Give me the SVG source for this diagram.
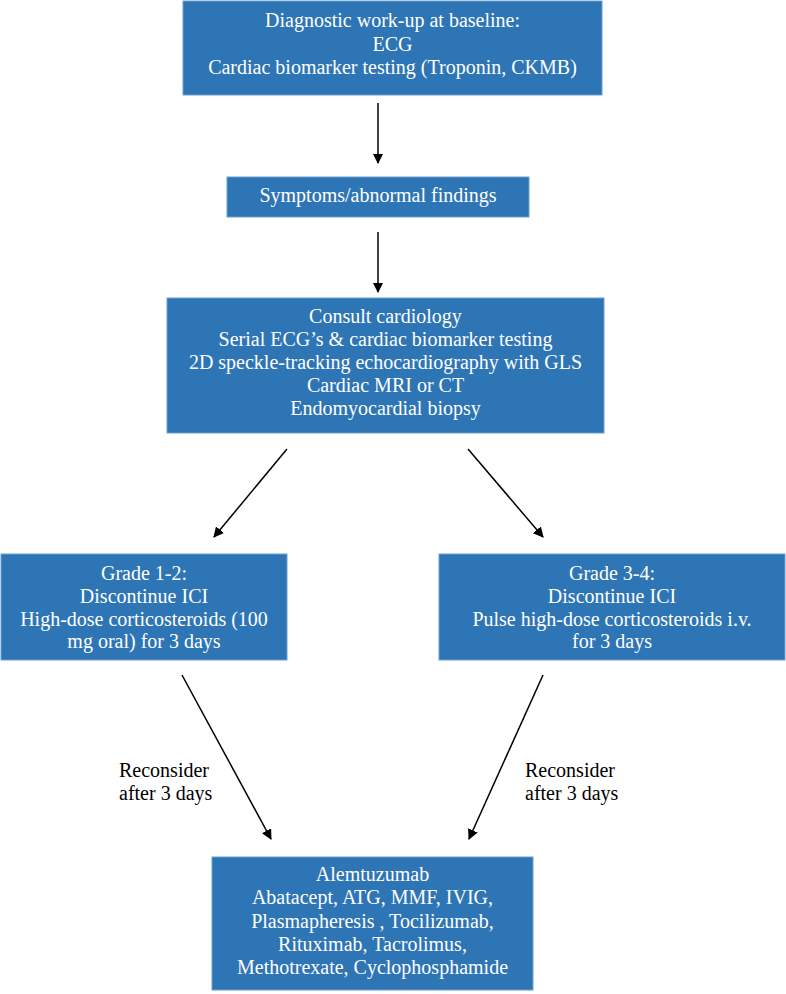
<svg xmlns="http://www.w3.org/2000/svg" width="786" height="994" viewBox="0 0 786 994">
<defs>
<style>
.box{fill:#2E75B6;stroke:#6A9FD4;stroke-width:1}
.t{font-family:"Liberation Serif","Times New Roman",serif;font-size:20px;fill:#ffffff;text-anchor:middle}
.lbl{font-family:"Liberation Serif","Times New Roman",serif;font-size:20px;fill:#000000}
.c{stroke:#000;stroke-width:1.5;fill:none;marker-end:url(#ah)}
</style>
<marker id="ah" viewBox="0 0 10 10" refX="9" refY="5" markerWidth="7" markerHeight="7" markerUnits="strokeWidth" orient="auto">
<path d="M0,0 L10,5 L0,10 Z" fill="#000"/>
</marker>
</defs>
<rect width="786" height="994" fill="#ffffff"/>
<g id="connectors">
<line class="c" x1="378" y1="103" x2="378" y2="163"/>
<line class="c" x1="378" y1="232" x2="378" y2="292"/>
<line class="c" x1="287" y1="449" x2="214" y2="537"/>
<line class="c" x1="468" y1="449" x2="543" y2="537"/>
<line class="c" x1="182" y1="675" x2="271" y2="839"/>
<line class="c" x1="543" y1="675" x2="469" y2="839"/>
<text class="lbl" x="119" y="777">Reconsider</text>
<text class="lbl" x="119" y="800">after 3 days</text>
<text class="lbl" x="525" y="777">Reconsider</text>
<text class="lbl" x="525" y="800">after 3 days</text>
</g>
<g id="baseline">
<rect class="box" x="183" y="1" width="419" height="94"/>
<text class="t" x="392.5" y="27">Diagnostic work-up at baseline:</text>
<text class="t" x="392.5" y="50.5">ECG</text>
<text class="t" x="392.5" y="74">Cardiac biomarker testing (Troponin, CKMB)</text>
</g>
<g id="symptoms">
<rect class="box" x="227" y="177" width="302" height="40"/>
<text class="t" x="378" y="202">Symptoms/abnormal findings</text>
</g>
<g id="consult">
<rect class="box" x="167" y="298" width="437" height="135"/>
<text class="t" x="385.5" y="323">Consult cardiology</text>
<text class="t" x="385.5" y="346">Serial ECG’s &amp; cardiac biomarker testing</text>
<text class="t" x="385.5" y="369">2D speckle-tracking echocardiography with GLS</text>
<text class="t" x="385.5" y="392">Cardiac MRI or CT</text>
<text class="t" x="385.5" y="415">Endomyocardial biopsy</text>
</g>
<g id="grade12">
<rect class="box" x="1" y="554" width="286" height="106"/>
<text class="t" x="144" y="580">Grade 1-2:</text>
<text class="t" x="144" y="603">Discontinue ICI</text>
<text class="t" x="144" y="625.5">High-dose corticosteroids (100</text>
<text class="t" x="144" y="648">mg oral) for 3 days</text>
</g>
<g id="grade34">
<rect class="box" x="439" y="554" width="346" height="106"/>
<text class="t" x="612" y="580">Grade 3-4:</text>
<text class="t" x="612" y="603">Discontinue ICI</text>
<text class="t" x="612" y="625.5">Pulse high-dose corticosteroids i.v.</text>
<text class="t" x="612" y="648">for 3 days</text>
</g>
<g id="secondline">
<rect class="box" x="212" y="857" width="321" height="133"/>
<text class="t" x="372.5" y="881">Alemtuzumab</text>
<text class="t" x="372.5" y="904">Abatacept, ATG, MMF, IVIG,</text>
<text class="t" x="372.5" y="927.5">Plasmapheresis , Tocilizumab,</text>
<text class="t" x="372.5" y="951">Rituximab, Tacrolimus,</text>
<text class="t" x="372.5" y="974">Methotrexate, Cyclophosphamide</text>
</g>
</svg>
